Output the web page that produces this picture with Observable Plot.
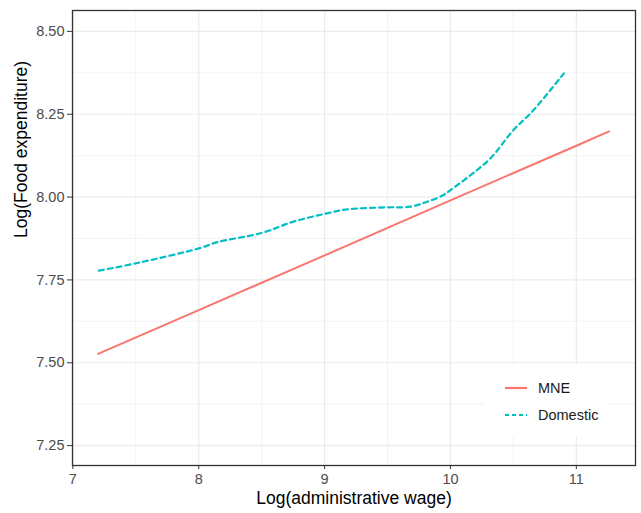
<!DOCTYPE html>
<html>
<head>
<meta charset="utf-8">
<script src="https://cdn.jsdelivr.net/npm/d3@7"></script>
<script src="https://cdn.jsdelivr.net/npm/@observablehq/plot@0.6"></script>
<style>
  html, body { margin: 0; padding: 0; background: #ffffff; }
  #chart { position: relative; width: 641px; height: 513px; }
  svg { font-family: "Liberation Sans", Arial, sans-serif; }
</style>
</head>
<body>
<div id="chart"></div>
<script>
// ---- data ----
const mneX = [7.2, 8.0, 9.0, 10.0, 11.0, 11.26];
const mneY = [7.527, 7.659, 7.824, 7.990, 8.155, 8.198];

const domX = [7.207, 7.512, 8.009, 8.147, 8.504, 8.753, 9.021, 9.180, 9.497, 9.682, 9.815, 9.944, 10.0, 10.159, 10.318, 10.50, 10.659, 10.90];
const domY = [7.778, 7.801, 7.846, 7.864, 7.892, 7.926, 7.951, 7.963, 7.969, 7.971, 7.986, 8.006, 8.021, 8.066, 8.117, 8.202, 8.262, 8.373];

const seriesNames = ["MNE", "Domestic"];
const seriesColors = ["#F8766D", "#00BFC4"];

const xTicks = [7, 8, 9, 10, 11];
const xMinor = [7.5, 8.5, 9.5, 10.5];
const yTicks = [7.25, 7.5, 7.75, 8.0, 8.25, 8.5];
const yMinor = [7.375, 7.625, 7.875, 8.125, 8.375];

const xTitle = "Log(administrative wage)";
const yTitle = "Log(Food expenditure)";

const mne = mneX.map((x, i) => ({x, y: mneY[i]}));
const dom = domX.map((x, i) => ({x, y: domY[i]}));

const plot = Plot.plot({
  width: 641,
  height: 513,
  marginLeft: 72,
  marginTop: 10,
  marginRight: 6,
  marginBottom: 48,
  style: {fontFamily: '"Liberation Sans", Arial, sans-serif', background: "#ffffff"},
  x: {domain: [6.997, 11.47]},
  y: {domain: [7.19, 8.563]},
  marks: [
    Plot.gridX(xMinor, {stroke: "#EBEBEB", strokeOpacity: 1, strokeWidth: 0.6}),
    Plot.gridY(yMinor, {stroke: "#EBEBEB", strokeOpacity: 1, strokeWidth: 0.6}),
    Plot.gridX(xTicks, {stroke: "#EBEBEB", strokeOpacity: 1, strokeWidth: 1.2}),
    Plot.gridY(yTicks, {stroke: "#EBEBEB", strokeOpacity: 1, strokeWidth: 1.2}),
    Plot.line(mne, {x: "x", y: "y", stroke: seriesColors[0], strokeWidth: 2}),
    Plot.line(dom, {x: "x", y: "y", stroke: seriesColors[1], strokeWidth: 2.2, strokeDasharray: "5,4", curve: "catmull-rom"}),
    Plot.frame({stroke: "#333333", strokeWidth: 1.3}),
    Plot.axisX(xTicks, {tickSize: 4, tickPadding: 4, fontSize: 14.5, color: "#4D4D4D", stroke: "#333333", label: null, tickFormat: d => String(d)}),
    Plot.axisY(yTicks, {tickSize: 5, tickPadding: 3, fontSize: 14.5, color: "#4D4D4D", stroke: "#333333", label: null, tickFormat: d => d.toFixed(2)}),
    Plot.text([xTitle], {frameAnchor: "bottom", dy: 38, fontSize: 17.5, fill: "#000000"}),
    Plot.text([yTitle], {frameAnchor: "left", dx: -51, rotate: -90, fontSize: 17.5, fill: "#000000"})
  ]
});

document.getElementById("chart").appendChild(plot);

// ---- legend inside the panel (bottom right) ----
const svg = d3.select(plot);
const lg = svg.append("g").attr("transform", "translate(485,364)");
lg.append("rect").attr("width", 125).attr("height", 72).attr("fill", "#ffffff");
seriesNames.forEach((name, i) => {
  const cy = 24 + i * 27;
  lg.append("line")
    .attr("x1", 20).attr("x2", 42).attr("y1", cy).attr("y2", cy)
    .attr("stroke", seriesColors[i]).attr("stroke-width", 2.2)
    .attr("stroke-dasharray", i === 1 ? "4,3" : null);
  lg.append("text")
    .attr("x", 53).attr("y", cy).attr("dy", "0.35em")
    .attr("text-anchor", "start")
    .attr("font-size", 14.5).attr("fill", "#1a1a1a")
    .text(name);
});
</script>
</body>
</html>
